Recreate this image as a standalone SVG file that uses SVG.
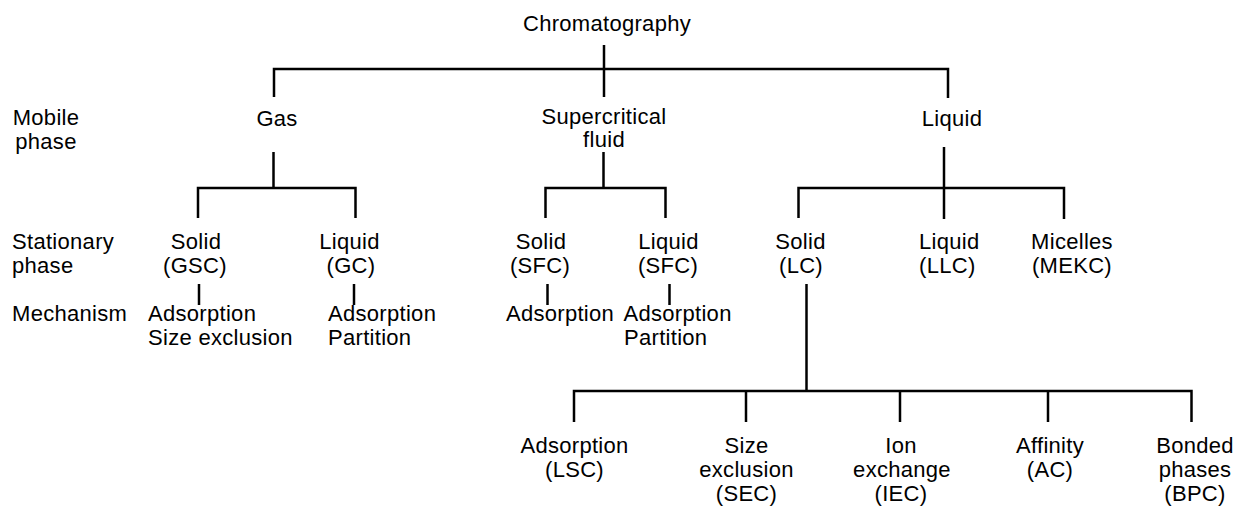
<svg xmlns="http://www.w3.org/2000/svg" width="1233" height="506" viewBox="0 0 1233 506">
<style>
text{font-family:"Liberation Sans",Arial,sans-serif;font-size:22px;fill:#000;letter-spacing:0.3px}
.m{text-anchor:middle}
.s{text-anchor:start}
.c line,.c polyline{stroke:#000;stroke-width:2.5;fill:none}
</style>
<rect width="1233" height="506" fill="#fff"/>
<g id="connectors" class="c">
<line x1="604" y1="45" x2="604" y2="97"/>
<polyline points="274,97 274,69 948,69 948,98"/>
<line x1="273.5" y1="152" x2="273.5" y2="188"/>
<polyline points="198,218 198,188 355.5,188 355.5,218"/>
<line x1="603.5" y1="152" x2="603.5" y2="188"/>
<polyline points="545.5,218 545.5,188 665.5,188 665.5,218"/>
<line x1="944" y1="147" x2="944" y2="219"/>
<polyline points="798.5,218 798.5,188 1064,188 1064,219"/>
<line x1="199" y1="284" x2="199" y2="305"/>
<line x1="354" y1="284" x2="354" y2="305"/>
<line x1="547.5" y1="284" x2="547.5" y2="305"/>
<line x1="669.5" y1="284" x2="669.5" y2="305"/>
<line x1="806.5" y1="284" x2="806.5" y2="391"/>
<polyline points="574,422 574,391 1191.5,391 1191.5,422"/>
<line x1="746" y1="391" x2="746" y2="422"/>
<line x1="900" y1="391" x2="900" y2="422"/>
<line x1="1048" y1="391" x2="1048" y2="422"/>
</g>
<g id="labels">
<text class="m" x="46" y="125">Mobile</text>
<text class="m" x="46" y="149">phase</text>
<text class="s" x="12" y="249">Stationary</text>
<text class="s" x="12" y="273">phase</text>
<text class="s" x="12" y="321">Mechanism</text>
</g>
<g id="chromatography"><text class="m" x="607" y="31">Chromatography</text></g>
<g id="gas"><text class="m" x="277" y="126">Gas</text></g>
<g id="supercritical" style="font-size:21px;letter-spacing:0.6px"><text class="m" x="604" y="123.5">Supercritical</text><text class="m" x="604" y="147">fluid</text></g>
<g id="liquid"><text class="m" x="952" y="126">Liquid</text></g>
<g id="gsc"><text class="m" x="196" y="249">Solid</text><text class="m" x="195" y="273">(GSC)</text></g>
<g id="gc"><text class="m" x="349.5" y="249">Liquid</text><text class="m" x="351" y="273">(GC)</text></g>
<g id="sfc-solid"><text class="m" x="541" y="249">Solid</text><text class="m" x="540" y="273">(SFC)</text></g>
<g id="sfc-liquid"><text class="m" x="668.5" y="249">Liquid</text><text class="m" x="668" y="273">(SFC)</text></g>
<g id="lc"><text class="m" x="800.5" y="249">Solid</text><text class="m" x="801" y="273">(LC)</text></g>
<g id="llc"><text class="s" x="919" y="249">Liquid</text><text class="s" x="919" y="273">(LLC)</text></g>
<g id="mekc"><text class="m" x="1072" y="249">Micelles</text><text class="m" x="1072" y="273">(MEKC)</text></g>
<g id="mech-gsc"><text class="s" x="148" y="321">Adsorption</text><text class="s" x="148" y="345">Size exclusion</text></g>
<g id="mech-gc"><text class="s" x="328" y="321">Adsorption</text><text class="s" x="328" y="345">Partition</text></g>
<g id="mech-sfc-solid"><text class="m" x="560" y="321">Adsorption</text></g>
<g id="mech-sfc-liquid"><text class="s" x="623.5" y="321">Adsorption</text><text class="s" x="624" y="345">Partition</text></g>
<g id="lsc"><text class="m" x="574.5" y="453">Adsorption</text><text class="m" x="574.5" y="477">(LSC)</text></g>
<g id="sec"><text class="m" x="746.5" y="453">Size</text><text class="m" x="746.5" y="477">exclusion</text><text class="m" x="746.5" y="501">(SEC)</text></g>
<g id="iec"><text class="m" x="901" y="453">Ion</text><text class="m" x="902" y="477">exchange</text><text class="m" x="901" y="501">(IEC)</text></g>
<g id="ac"><text class="m" x="1050" y="453">Affinity</text><text class="m" x="1050" y="477">(AC)</text></g>
<g id="bpc" style="letter-spacing:0"><text class="m" x="1195" y="453">Bonded</text><text class="m" x="1195" y="477">phases</text><text class="m" x="1195" y="501">(BPC)</text></g>
</svg>
